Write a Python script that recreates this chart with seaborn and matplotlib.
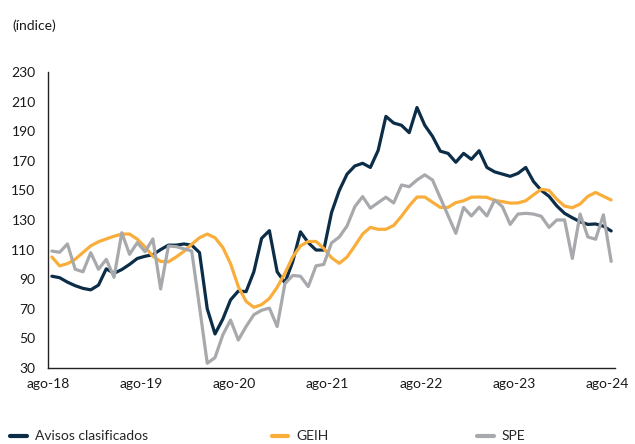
import pandas as pd
import matplotlib
matplotlib.use("Agg")
import matplotlib.pyplot as plt
import seaborn as sns
from matplotlib.lines import Line2D

# monthly index, ago-18 .. ago-24
avisos = [92, 91, 88, 85.6, 83.8, 82.8, 86, 97, 94, 96.5, 100, 104, 105.5,
          106.5, 110, 113, 113, 113.8, 113, 108, 70, 53, 63, 76, 82,
          81.6, 95, 117.6, 122.8, 95, 87.6, 101.8, 122, 114.7, 109.7, 109.7, 135,
          150, 161, 166.5, 168.3, 165.5, 177, 200, 195.5, 194, 189, 206, 194,
          186.5, 176.5, 175, 169, 175, 171, 176.8, 165.5, 162.5, 161, 159.5, 161.5,
          165.5, 156, 150, 146, 139.5, 134.5, 131.5, 128.8, 127, 127.3, 125.8, 122.6]
geih = [105, 99, 100.5, 103.5, 108, 112.5, 115.3, 117.2, 119, 120.5, 120.5, 117, 111.7,
        105.5, 102, 101.7, 105, 108.8, 113.6, 118, 120.5, 118, 111.5, 100.5, 85,
        75, 71, 72.8, 77, 84.5, 94, 105, 112.5, 115.5, 115.5, 110.8, 104.5,
        100.7, 105, 112.5, 120.5, 125, 123.7, 123.7, 126.3, 132.5, 139.5, 145.5, 145.5,
        142, 138.5, 138.5, 141.7, 143, 145.4, 145.5, 145.3, 143.2, 142.4, 141.4, 141.5,
        143, 147, 150.7, 150, 144, 139.4, 138.3, 140.8, 146, 148.6, 146, 143.5]
spe = [109, 108.2, 113.8, 96.7, 95, 107.9, 96.7, 103.4, 91.3, 121.4, 106.8, 114.7, 108.6,
       117.2, 83.4, 112.4, 112, 110.5, 109, 71.4, 33.2, 37, 52.3, 62.4, 48.9,
       58, 66, 69, 70.5, 58, 87, 92.5, 92, 85, 99, 100, 114.5,
       118.5, 126, 139, 145.8, 138, 141.7, 145.4, 141.5, 153.6, 152.5, 157, 160.5,
       157, 145, 133, 121, 138.5, 132.7, 138.6, 132.7, 143.5, 139, 127, 134,
       134.5, 134, 132.5, 125, 130, 130, 104, 134, 118.5, 117, 133.5, 102]

series_names = ["Avisos clasificados", "GEIH", "SPE"]
colors = ["#0c2d48", "#f9ae3b", "#a7a9ac"]
tick_labels = ["ago-18", "ago-19", "ago-20", "ago-21", "ago-22", "ago-23", "ago-24"]
y_ticks = list(range(30, 231, 20))


def main():
    frames = []
    for name, vals in zip(series_names, [avisos, geih, spe]):
        frames.append(pd.DataFrame({"mes": range(len(vals)), "valor": vals, "serie": name}))
    df = pd.concat(frames, ignore_index=True)

    sns.set_style("white")
    plt.rcParams["font.family"] = ["Lato", "DejaVu Sans"]

    fig = plt.figure(figsize=(6.35, 4.44), dpi=100)
    ax = fig.add_axes([0.0756, 0.1712, 0.893, 0.6667])

    sns.lineplot(data=df, x="mes", y="valor", hue="serie", hue_order=series_names,
                 palette=colors, linewidth=2.3, ax=ax, legend=False)

    ax.set_xlim(-0.5, 72.5)
    ax.set_ylim(30, 230)
    ax.set_xticks([12 * i - 0.5 for i in range(len(tick_labels))])
    ax.set_xticklabels(tick_labels)
    ax.set_yticks(y_ticks)
    ax.set_xlabel("")
    ax.set_ylabel("")

    for s in ["top", "right"]:
        ax.spines[s].set_visible(False)
    for s in ["left", "bottom"]:
        ax.spines[s].set_color("#222222")
        ax.spines[s].set_linewidth(1.0)
    ax.tick_params(axis="x", direction="in", length=4, width=0.8, color="#222222",
                   labelsize=10, pad=7, labelcolor="#1a1a1a")
    ax.tick_params(axis="y", direction="in", length=3, width=0.8, color="#222222",
                   labelsize=10, pad=9, labelcolor="#1a1a1a")
    ax.grid(False)

    fig.text(0.019, 0.943, "(índice)", fontsize=10, color="#1a1a1a", va="center")

    # one legend entry per spot along the bottom edge
    legend_x = [0.016, 0.428, 0.751]
    for name, c, lx in zip(series_names, colors, legend_x):
        h = Line2D([0], [0], color=c, lw=3)
        fig.legend([h], [name], loc="center left", bbox_to_anchor=(lx, 0.017),
                   frameon=False, fontsize=10, handlelength=1.2, handletextpad=0.6,
                   borderpad=0, borderaxespad=0)

    fig.savefig("out.png", dpi=100)


if __name__ == "__main__":
    main()
